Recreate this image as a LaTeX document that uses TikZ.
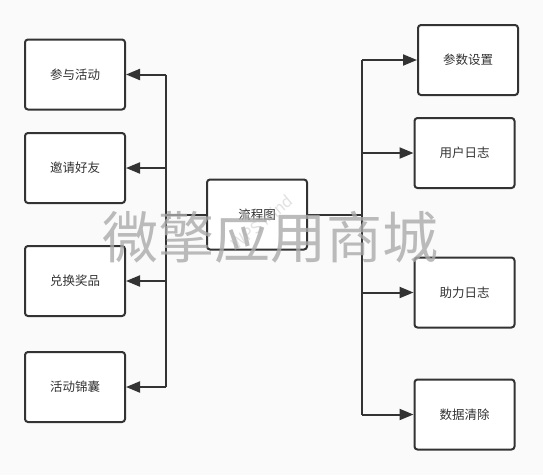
\documentclass[tikz,border=0pt]{standalone}
\usepackage{fontspec}
\usepackage{xcolor}
\usepackage{tikz}
\usetikzlibrary{arrows.meta}
\setmainfont{Noto Sans CJK SC}
\definecolor{bgcol}{RGB}{250,250,250}
\definecolor{linecol}{RGB}{51,51,51}
\definecolor{markcol}{RGB}{170,170,170}

\tikzset{
  box/.style={draw=linecol, line width=2pt, rounded corners=3pt, fill=white,
    minimum width=100pt, minimum height=70pt, inner sep=0pt,
    font=\fontsize{12.5}{14}\selectfont, text=linecol},
  link/.style={draw=linecol, line width=2pt},
  arr/.style={link, -{Triangle[length=14pt,width=11pt]}}
}

\begin{document}
\begin{tikzpicture}[x=1pt,y=-1pt]
\fill[bgcol] (0,0) rectangle (543,475);
\useasboundingbox (0,0) rectangle (543,475);
% boxes
\node[box] (Main) at (257,214.5) {流程图};
\node[box] (Join) at (75,74.5) {参与活动};
\node[box] (Invite) at (75,168) {邀请好友};
\node[box] (Prize) at (75,281) {兑换奖品};
\node[box] (Bag) at (75,387) {活动锦囊};
\node[box] (Param) at (468,60) {参数设置};
\node[box] (UserLog) at (464.5,153) {用户日志};
\node[box] (HelpLog) at (464.5,292.5) {助力日志};
\node[box] (Clear) at (464.5,414.5) {数据清除};
% joints
\coordinate (Left) at (166,214.5);
\coordinate (Right) at (362,214.5);
\draw[link] (Main.west) -- (Left);
\draw[link] (Main.east) -- (Right);
\draw[link] (Left |- Join.east) -- (Left |- Bag.east);
\draw[link] (Right |- Param.west) -- (Right |- Clear.west);
\foreach \n in {Join,Invite,Prize,Bag}\draw[arr] (Left |- \n.east) -- (\n.east);
\foreach \n in {Param,UserLog,HelpLog,Clear}\draw[arr] (Right |- \n.west) -- (\n.west);
% watermark
\node[text=markcol, opacity=0.8, font=\fontsize{56}{60}\selectfont, inner sep=0pt] (Mark) at (270,237) {微擎应用商城};
\node[text=markcol, opacity=0.35, rotate=40, font=\fontsize{16}{18}\selectfont, inner sep=0pt] (Wps) at (262,222) {WPS Mind};
\end{tikzpicture}
\end{document}
